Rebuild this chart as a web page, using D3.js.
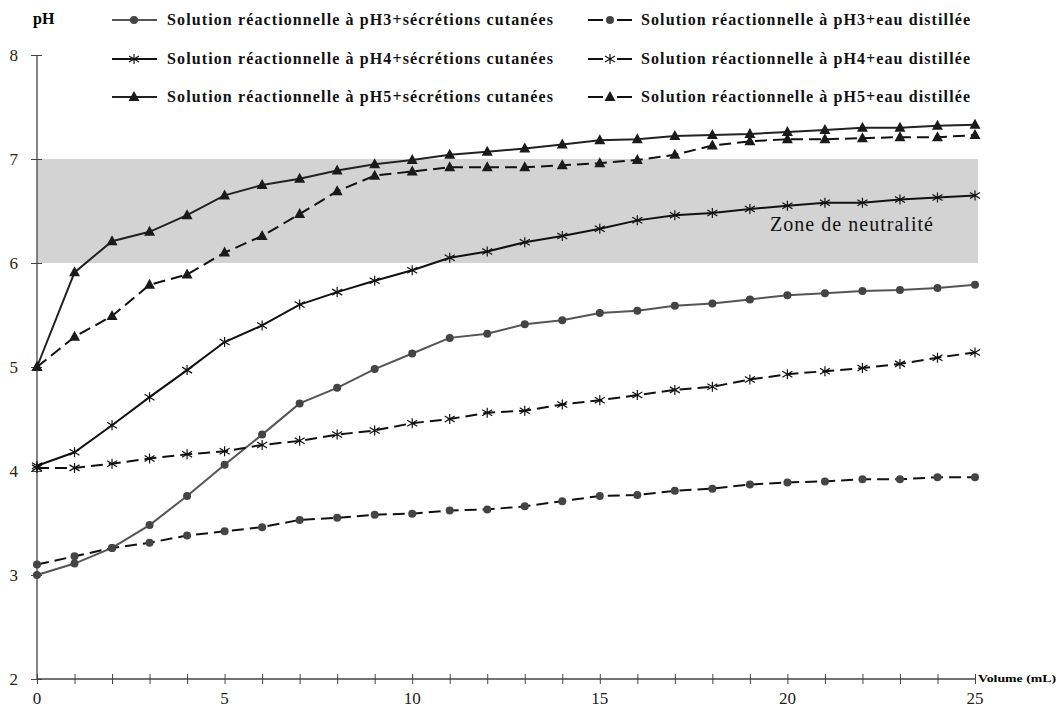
<!DOCTYPE html>
<html lang="fr">
<head>
<meta charset="utf-8">
<title>pH en fonction du volume</title>
<script src="https://cdn.jsdelivr.net/npm/d3@7"></script>
<style>
  body { margin: 0; background: #fff; }
  svg { display: block; font-family: "Liberation Serif", "DejaVu Serif", serif; }
</style>
</head>
<body>
<div id="chart"></div>
<script>
// volumes (mL)
var volumes = d3.range(0, 26);

// pH readings
var ph3Secretions = [3.00, 3.11, 3.26, 3.48, 3.76, 4.06, 4.35, 4.65, 4.80, 4.98, 5.13, 5.28, 5.32, 5.41, 5.45, 5.52, 5.54, 5.59, 5.61, 5.65, 5.69, 5.71, 5.73, 5.74, 5.76, 5.79];
var ph3Eau = [3.10, 3.18, 3.26, 3.31, 3.38, 3.42, 3.46, 3.53, 3.55, 3.58, 3.59, 3.62, 3.63, 3.66, 3.71, 3.76, 3.77, 3.81, 3.83, 3.87, 3.89, 3.90, 3.92, 3.92, 3.94, 3.94];
var ph4Secretions = [4.05, 4.18, 4.44, 4.71, 4.97, 5.24, 5.40, 5.60, 5.72, 5.83, 5.93, 6.05, 6.11, 6.20, 6.26, 6.33, 6.41, 6.46, 6.48, 6.52, 6.55, 6.58, 6.58, 6.61, 6.63, 6.65];
var ph4Eau = [4.03, 4.03, 4.07, 4.12, 4.16, 4.19, 4.25, 4.29, 4.35, 4.39, 4.46, 4.50, 4.56, 4.58, 4.64, 4.68, 4.73, 4.78, 4.81, 4.88, 4.93, 4.96, 4.99, 5.03, 5.09, 5.14];
var ph5Secretions = [5.00, 5.91, 6.21, 6.30, 6.46, 6.65, 6.75, 6.81, 6.89, 6.95, 6.99, 7.04, 7.07, 7.10, 7.14, 7.18, 7.19, 7.22, 7.23, 7.24, 7.26, 7.28, 7.30, 7.30, 7.32, 7.33];
var ph5Eau = [5.00, 5.29, 5.49, 5.79, 5.89, 6.10, 6.26, 6.47, 6.69, 6.84, 6.88, 6.92, 6.92, 6.92, 6.94, 6.96, 6.99, 7.04, 7.13, 7.17, 7.19, 7.19, 7.20, 7.21, 7.21, 7.23];

var xTicks = [0, 5, 10, 15, 20, 25];
var yTicks = [2, 3, 4, 5, 6, 7, 8];
var zone = [6, 7];

var series = [
  {name: "Solution réactionnelle à pH3+sécrétions cutanées", values: ph3Secretions, marker: "circle", dashed: false, color: "#555"},
  {name: "Solution réactionnelle à pH3+eau distillée", values: ph3Eau, marker: "circle", dashed: true, color: "#111"},
  {name: "Solution réactionnelle à pH4+sécrétions cutanées", values: ph4Secretions, marker: "star", dashed: false, color: "#111"},
  {name: "Solution réactionnelle à pH4+eau distillée", values: ph4Eau, marker: "star", dashed: true, color: "#111"},
  {name: "Solution réactionnelle à pH5+sécrétions cutanées", values: ph5Secretions, marker: "triangle", dashed: false, color: "#222"},
  {name: "Solution réactionnelle à pH5+eau distillée", values: ph5Eau, marker: "triangle", dashed: true, color: "#111"}
];

var width = 1062, height = 709;

var x = d3.scaleLinear().domain([0, 25]).range([37, 975]);
var y = d3.scaleLinear().domain([2, 8]).range([679, 55]);

var svg = d3.select("#chart").append("svg")
  .attr("width", width)
  .attr("height", height);

// zone de neutralite
svg.append("rect")
  .attr("x", x(0))
  .attr("y", y(zone[1]))
  .attr("width", x(25) - x(0) + 3)
  .attr("height", y(zone[0]) - y(zone[1]))
  .attr("fill", "#d3d3d3");

svg.append("text")
  .attr("x", 770)
  .attr("y", y(6.31))
  .attr("font-size", 20)
  .attr("fill", "#111")
  .attr("textLength", 163)
  .attr("lengthAdjust", "spacing")
  .text("Zone de neutralité");

// axes
var xAxis = d3.axisBottom(x).tickValues(volumes).tickSize(5).tickFormat("");
var gx = svg.append("g")
  .attr("transform", "translate(0," + y(2) + ")")
  .call(xAxis);
gx.select(".domain").attr("d", "M" + x(0) + ",0H" + x(25)).attr("stroke", "#444").attr("stroke-width", 1.3);
gx.selectAll(".tick line").attr("y1", -5).attr("y2", 5).attr("stroke", "#444");

svg.append("g")
  .selectAll("text")
  .data(xTicks)
  .join("text")
  .attr("x", function(d) { return x(d); })
  .attr("y", 704)
  .attr("text-anchor", "middle")
  .attr("font-size", 17)
  .attr("fill", "#222")
  .text(function(d) { return d; });

var yAxis = d3.axisLeft(y).tickValues(yTicks).tickSize(5).tickPadding(14).tickFormat(d3.format("d"));
var gy = svg.append("g")
  .attr("transform", "translate(" + x(0) + ",0)")
  .call(yAxis);
gy.select(".domain").attr("d", "M0," + y(8) + "V" + y(2)).attr("stroke", "#444").attr("stroke-width", 1.3);
gy.selectAll(".tick line").attr("x1", -6).attr("x2", 5).attr("stroke", "#444");
gy.selectAll(".tick text")
  .attr("font-family", "Liberation Serif, serif")
  .attr("font-size", 17)
  .attr("fill", "#222");

svg.append("text")
  .attr("x", 33).attr("y", 24)
  .attr("font-size", 16).attr("font-weight", "bold")
  .text("pH");

svg.append("text")
  .attr("x", 978).attr("y", 682)
  .attr("font-size", 11).attr("font-weight", "bold")
  .attr("textLength", 78).attr("lengthAdjust", "spacingAndGlyphs")
  .text("Volume (mL)");

// markers
function drawMarker(g, kind, cx, cy, color) {
  if (kind === "circle") {
    g.append("circle").attr("cx", cx).attr("cy", cy).attr("r", 4).attr("fill", "#444");
  } else if (kind === "triangle") {
    g.append("path")
      .attr("d", "M" + cx + "," + (cy - 6) + "L" + (cx + 5.5) + "," + (cy + 4) + "L" + (cx - 5.5) + "," + (cy + 4) + "Z")
      .attr("fill", "#1a1a1a");
  } else {
    var s = 5;
    g.append("path")
      .attr("d", "M" + cx + "," + (cy - s) + "V" + (cy + s) +
        "M" + (cx - s) + "," + (cy - s * 0.6) + "L" + (cx + s) + "," + (cy + s * 0.6) +
        "M" + (cx - s) + "," + (cy + s * 0.6) + "L" + (cx + s) + "," + (cy - s * 0.6))
      .attr("stroke", color)
      .attr("stroke-width", 1.2)
      .attr("fill", "none");
  }
}

var line = d3.line()
  .x(function(d) { return x(d[0]); })
  .y(function(d) { return y(d[1]); });

series.forEach(function(s) {
  var pts = volumes.map(function(v, i) { return [v, s.values[i]]; });
  var g = svg.append("g");
  g.append("path")
    .datum(pts)
    .attr("d", line)
    .attr("fill", "none")
    .attr("stroke", s.color)
    .attr("stroke-width", 2)
    .attr("stroke-dasharray", s.dashed ? "12,6" : null);
  pts.forEach(function(p) {
    drawMarker(g, s.marker, x(p[0]), y(p[1]), s.color);
  });
});

// legend
var legendCols = [{lx: 112, tx: 167}, {lx: 588, tx: 641}];
var legendRows = [20, 59, 97];
series.forEach(function(s, i) {
  var col = legendCols[i % 2];
  var ry = legendRows[Math.floor(i / 2)];
  var g = svg.append("g");
  g.append("line")
    .attr("x1", col.lx).attr("x2", col.lx + 45)
    .attr("y1", ry).attr("y2", ry)
    .attr("stroke", s.color)
    .attr("stroke-width", 2)
    .attr("stroke-dasharray", s.dashed ? "15,14" : null);
  drawMarker(g, s.marker, col.lx + 22, ry, s.color);
  g.append("text")
    .attr("x", col.tx).attr("y", ry + 5)
    .attr("font-size", 16)
    .attr("font-weight", "bold")
    .attr("fill", "#111")
    .attr("textLength", i % 2 === 0 ? 386 : 329)
    .attr("lengthAdjust", "spacing")
    .text(s.name);
});
</script>
</body>
</html>
